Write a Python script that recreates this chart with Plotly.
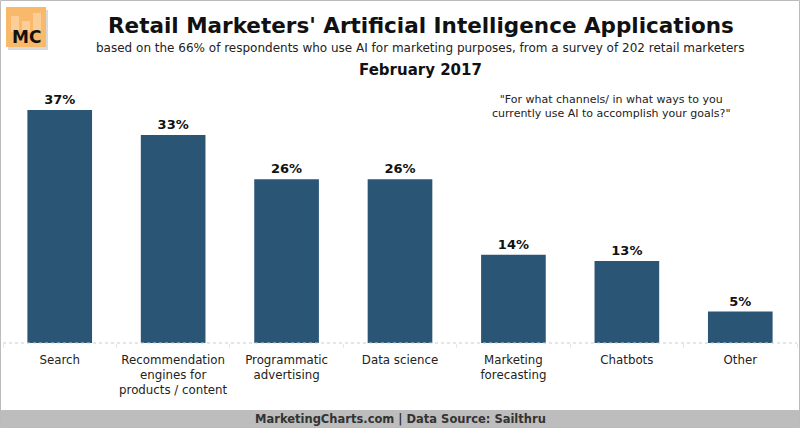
import plotly.graph_objects as go

categories = ["Search", "Recommendation<br>engines for<br>products / content", "Programmatic<br>advertising",
              "Data science", "Marketing<br>forecasting", "Chatbots", "Other"]
values = [37, 33, 26, 26, 14, 13, 5]
value_labels = ["37%", "33%", "26%", "26%", "14%", "13%", "5%"]

W, H = 800, 428
L, R, T, B = 3, 3, 90, 85
ph = H - T - B

def py(pix):
    # pixel y (from top) -> paper y
    return (H - B - pix) / ph

def px(pix):
    return (pix - L) / (W - L - R)

FONT = "DejaVu Sans"
BAR = "#2B5575"

fig = go.Figure(go.Bar(
    x=categories, y=values, text=value_labels,
    textposition="outside", cliponaxis=False,
    textfont=dict(family=FONT, size=13, color="#111111"),
    marker=dict(color=BAR, line=dict(width=0)), width=0.57,
    hoverinfo="skip",
))

fig.update_layout(
    width=W, height=H, margin=dict(l=L, r=R, t=T, b=B, autoexpand=False),
    paper_bgcolor="white", plot_bgcolor="white", showlegend=False,
    font=dict(family=FONT, color="#222222"),
    xaxis=dict(type="category", showgrid=False, zeroline=False, showline=False, automargin=False,
               tickangle=0,
               ticks="outside", tickson="boundaries", ticklen=4, tickcolor="#e8e8e8", tickwidth=1,
               ticklabelstandoff=8, tickfont=dict(family=FONT, size=11.8, color="#222222")),
    yaxis=dict(range=[0, 40.16], visible=False, showgrid=False, zeroline=False, automargin=False),
)

fig.update_traces(texttemplate="<b>%{text}</b>")

shapes = [
    dict(type="line", xref="paper", yref="paper", x0=0, x1=1, y0=0, y1=0,
         line=dict(color="#cccccc", width=1, dash="dot")),
    dict(type="rect", xref="paper", yref="paper", x0=px(0), x1=px(W), y0=py(H), y1=py(410),
         fillcolor="#bdbdbd", line=dict(width=0), layer="below"),
    dict(type="rect", xref="paper", yref="paper", x0=px(0.5), x1=px(W - 0.5), y0=py(H - 0.5), y1=py(0.5),
         fillcolor="rgba(0,0,0,0)", line=dict(color="#bbbbbb", width=1)),
    # logo
    dict(type="rect", xref="paper", yref="paper", x0=px(8), x1=px(48), y0=py(50), y1=py(10),
         fillcolor="#d9d9d9", line=dict(width=0)),
    dict(type="rect", xref="paper", yref="paper", x0=px(6), x1=px(46), y0=py(47), y1=py(7),
         fillcolor="#F9B96A", line=dict(width=0)),
    dict(type="rect", xref="paper", yref="paper", x0=px(11), x1=px(19), y0=py(32), y1=py(16),
         fillcolor="rgba(255,255,255,0.3)", line=dict(width=0)),
    dict(type="rect", xref="paper", yref="paper", x0=px(22), x1=px(30), y0=py(32), y1=py(21),
         fillcolor="rgba(255,255,255,0.3)", line=dict(width=0)),
    dict(type="rect", xref="paper", yref="paper", x0=px(33), x1=px(41), y0=py(32), y1=py(13),
         fillcolor="rgba(255,255,255,0.3)", line=dict(width=0)),
]

annotations = [
    dict(text="<b>Retail Marketers' Artificial Intelligence Applications</b>", x=px(421), y=py(26),
         xref="paper", yref="paper", showarrow=False, font=dict(family=FONT, size=21.5, color="#111111"),
         xanchor="center", yanchor="middle"),
    dict(text="based on the 66% of respondents who use AI for marketing purposes, from a survey of 202 retail marketers",
         x=px(420), y=py(48), xref="paper", yref="paper", showarrow=False,
         font=dict(family=FONT, size=12, color="#222222"), xanchor="center", yanchor="middle"),
    dict(text="<b>February 2017</b>", x=px(420), y=py(70), xref="paper", yref="paper", showarrow=False,
         font=dict(family=FONT, size=15, color="#111111"), xanchor="center", yanchor="middle"),
    dict(text="\"For what channels/ in what ways to you<br>currently use AI to accomplish your goals?\"",
         x=px(611), y=py(107), xref="paper", yref="paper", showarrow=False,
         font=dict(family=FONT, size=11, color="#222222"), xanchor="center", yanchor="middle"),
    dict(text="<b>MarketingCharts.com | Data Source: Sailthru</b>", x=px(400), y=py(419),
         xref="paper", yref="paper", showarrow=False, font=dict(family=FONT, size=11.5, color="#333333"),
         xanchor="center", yanchor="middle"),
    dict(text="<b>MC</b>", x=px(26), y=py(37), xref="paper", yref="paper", showarrow=False,
         font=dict(family=FONT, size=17, color="#111111"), xanchor="center", yanchor="middle"),
]

fig.update_layout(shapes=shapes, annotations=annotations)
fig.write_html("out.html", config={"displayModeBar": False},
               post_script="document.body.style.margin='0';document.body.style.overflow='hidden';")
